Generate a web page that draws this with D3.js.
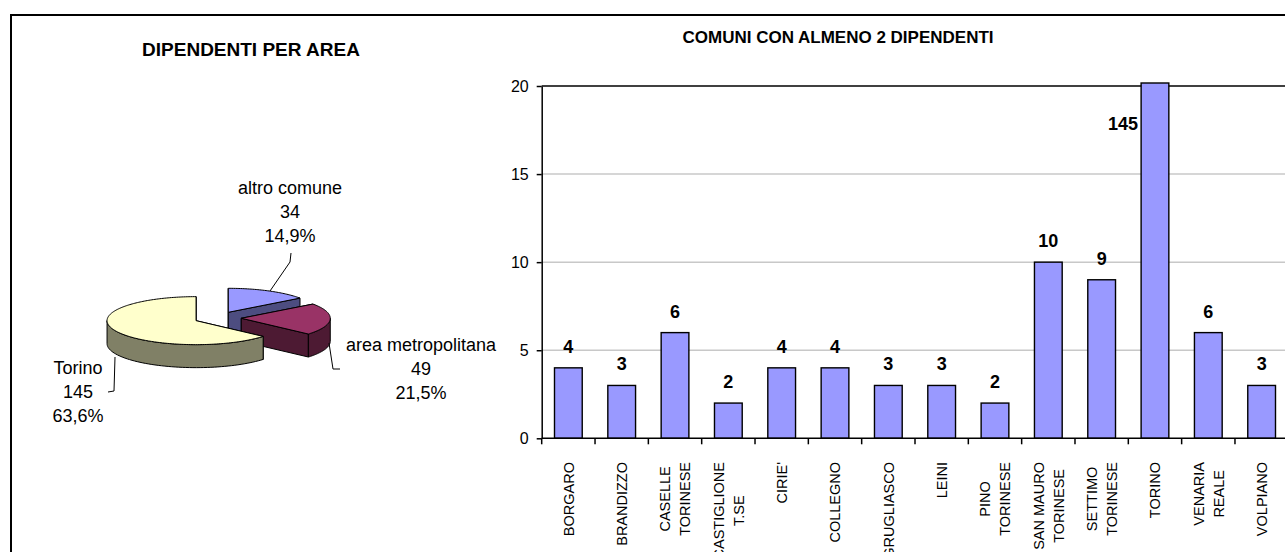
<!DOCTYPE html>
<html><head><meta charset="utf-8">
<script src="https://cdn.jsdelivr.net/npm/d3@7"></script>
<style>
body{margin:0;background:#fff}
svg{display:block}
text{font-family:"Liberation Sans",Arial,sans-serif;fill:#000}
</style>
</head><body>
<svg id="c" width="1285" height="552"></svg>
<script>
// ---------- DATA ----------
const pieTitle = "DIPENDENTI PER AREA";
const pieCategories = ["altro comune", "area metropolitana", "Torino"];
const pieValues = [34, 49, 145];
const piePercents = ["14,9%", "21,5%", "63,6%"];
const pieColors = ["#9999ff", "#993366", "#ffffcc"];
const pieSideColors = ["#4d4d80", "#4d1a33", "#808066"];

const barTitle = "COMUNI CON ALMENO 2 DIPENDENTI";
const barCategories = ["BORGARO", "BRANDIZZO", "CASELLE\nTORINESE", "CASTIGLIONE\nT.SE", "CIRIE'", "COLLEGNO",
  "GRUGLIASCO", "LEINI", "PINO\nTORINESE", "SAN MAURO\nTORINESE", "SETTIMO\nTORINESE", "TORINO", "VENARIA\nREALE", "VOLPIANO"];
const barValues = [4, 3, 6, 2, 4, 4, 3, 3, 2, 10, 9, 145, 6, 3];
const yTicks = [0, 5, 10, 15, 20];

// ---------- SETUP ----------
const svg = d3.select("#c");
const FONT = '"Liberation Sans",Arial,sans-serif';

// outer frame
svg.append("path").attr("d", "M11,552V15H1285").attr("fill", "none").attr("stroke", "#000").attr("stroke-width", 2);

// ---------- PIE (3D) ----------
svg.append("text").attr("x", 251).attr("y", 56).attr("text-anchor", "middle")
  .style("font-size", "19px").style("font-weight", "bold").text(pieTitle);

const P = {cx: 217.6, cy: 318, rx: 89, ry: 24, depth: 23, explode: 0.266};
const arcs = d3.pie().sort(null).value(d => d).startAngle(0).endAngle(2 * Math.PI)(pieValues);
const line = d3.line();
function pt(a, r, off, dz) {
  return [P.cx + off[0] + r * P.rx * Math.sin(a), P.cy + off[1] - r * P.ry * Math.cos(a) + (dz || 0)];
}
const pg = svg.append("g");
arcs.forEach((s, i) => {
  const mid = (s.startAngle + s.endAngle) / 2;
  const off = [P.explode * P.rx * Math.sin(mid), -P.explode * P.ry * Math.cos(mid)];
  const g = pg.append("g");
  const sty = sel => sel.attr("fill", pieSideColors[i]).attr("stroke", "#000").attr("stroke-width", 1).attr("stroke-linejoin", "round");
  // radial walls
  [s.startAngle, s.endAngle].forEach(a => {
    const pts = [pt(0, 0, off), pt(a, 1, off), pt(a, 1, off, P.depth), pt(0, 0, off, P.depth)];
    g.append("path").attr("d", line(pts) + "Z").call(sty);
  });
  // outer front wall
  const a0 = Math.max(s.startAngle, Math.PI / 2), a1 = Math.min(s.endAngle, 3 * Math.PI / 2);
  if (a1 > a0) {
    const n = 60;
    const as = d3.range(n + 1).map(k => a0 + (a1 - a0) * k / n);
    const pts = as.map(a => pt(a, 1, off)).concat(as.slice().reverse().map(a => pt(a, 1, off, P.depth)));
    g.append("path").attr("d", line(pts) + "Z").call(sty);
  }
  // top face
  const n = Math.max(8, Math.ceil((s.endAngle - s.startAngle) / 0.02));
  const top = [pt(0, 0, off)].concat(d3.range(n + 1).map(k => pt(s.startAngle + (s.endAngle - s.startAngle) * k / n, 1, off)));
  g.append("path").attr("d", line(top) + "Z").attr("fill", pieColors[i]).attr("stroke", "#000").attr("stroke-width", 1).attr("stroke-linejoin", "round");
});

// pie labels (layout positions)
const pieLabelPos = [
  {x: 290, y: 194, leader: [[291, 253], [290, 262], [270, 291]]},
  {x: 421, y: 351, leader: [[329, 343], [333, 369], [340, 369]]},
  {x: 78, y: 374, leader: [[115, 357], [114, 391], [108, 392]]}
];
pieCategories.forEach((c, i) => {
  const lp = pieLabelPos[i];
  svg.append("path").attr("d", line(lp.leader)).attr("fill", "none").attr("stroke", "#000").attr("stroke-width", 1);
  const t = svg.append("text").attr("text-anchor", "middle").style("font-size", "18px");
  [c, String(pieValues[i]), piePercents[i]].forEach((s, k) => {
    t.append("tspan").attr("x", lp.x).attr("y", lp.y + k * 24).text(s);
  });
});

// ---------- BAR CHART ----------
svg.append("text").attr("x", 838).attr("y", 43).attr("text-anchor", "middle")
  .style("font-size", "17px").style("font-weight", "bold").text(barTitle);

const x = d3.scaleBand().domain(barCategories).range([541.7, 1288.3]).paddingInner(0).paddingOuter(0);
const y = d3.scaleLinear().domain([0, d3.max(yTicks)]).range([438.3, 86]);
const bw = x.bandwidth(), barW = bw * 0.52;

// grid lines
svg.append("g").selectAll("line").data(yTicks.filter(v => v > 0 && v < d3.max(yTicks))).join("line")
  .attr("x1", x.range()[0]).attr("x2", x.range()[1]).attr("y1", d => y(d)).attr("y2", d => y(d))
  .attr("stroke", "#c8c8c8").attr("stroke-width", 1.5);
// plot top border
svg.append("line").attr("x1", x.range()[0]).attr("x2", x.range()[1]).attr("y1", y(d3.max(yTicks))).attr("y2", y(d3.max(yTicks)))
  .attr("stroke", "#000").attr("stroke-width", 1.5);

// bars
const yCap = y.invert(y(d3.max(yTicks)) - 3);
svg.append("g").selectAll("rect").data(barValues).join("rect")
  .attr("x", (d, i) => x(barCategories[i]) + (bw - barW) / 2)
  .attr("width", barW)
  .attr("y", d => y(Math.min(d, yCap)))
  .attr("height", d => y(0) - y(Math.min(d, yCap)))
  .attr("fill", "#9999ff").attr("stroke", "#000").attr("stroke-width", 1.4);

// value labels
svg.append("g").selectAll("text").data(barValues).join("text")
  .style("font-size", "18px").style("font-weight", "bold")
  .attr("text-anchor", d => d > d3.max(yTicks) ? "end" : "middle")
  .attr("x", (d, i) => d > d3.max(yTicks) ? x(barCategories[i]) + (bw - barW) / 2 - 3 : x(barCategories[i]) + bw / 2)
  .attr("y", d => d > d3.max(yTicks) ? y(d3.max(yTicks)) + 44 : y(d) - 15)
  .text(d => d);

// y axis
const ya = svg.append("g").attr("transform", `translate(${x.range()[0]},0)`)
  .call(d3.axisLeft(y).tickValues(yTicks).tickSize(5).tickSizeOuter(0).tickPadding(8).tickFormat(d3.format("d")));
ya.select(".domain").attr("stroke", "#000").attr("stroke-width", 1.5);
ya.selectAll(".tick line").attr("stroke", "#000").attr("stroke-width", 1.5);
ya.selectAll(".tick text").style("font-size", "16px").style("font-family", FONT).attr("fill", "#000");

// x axis
svg.append("line").attr("x1", x.range()[0]).attr("x2", x.range()[1]).attr("y1", y(0)).attr("y2", y(0))
  .attr("stroke", "#000").attr("stroke-width", 1.5);
const bounds = barCategories.map(c => x(c)).concat([x.range()[1]]);
svg.append("g").selectAll("line").data(bounds).join("line")
  .attr("x1", d => d).attr("x2", d => d).attr("y1", y(0)).attr("y2", y(0) + 6)
  .attr("stroke", "#000").attr("stroke-width", 1.5);

// category labels (rotated)
const labTop = 462, pitch = 20;
barCategories.forEach(c => {
  const lines = c.split("\n");
  const cx = x(c) + bw / 2;
  const g = svg.append("g");
  const ts = lines.map((l, k) => g.append("text").style("font-size", "14.5px").attr("text-anchor", "middle").text(l));
  const lens = ts.map(t => t.node().getComputedTextLength());
  const maxLen = d3.max(lens);
  const cy = labTop + maxLen / 2;
  ts.forEach((t, k) => {
    const lx = cx + (k - (lines.length - 1) / 2) * pitch;
    t.attr("transform", `translate(${lx},${cy}) rotate(-90)`).attr("dy", "0.36em");
  });
});
</script>
</body></html>
